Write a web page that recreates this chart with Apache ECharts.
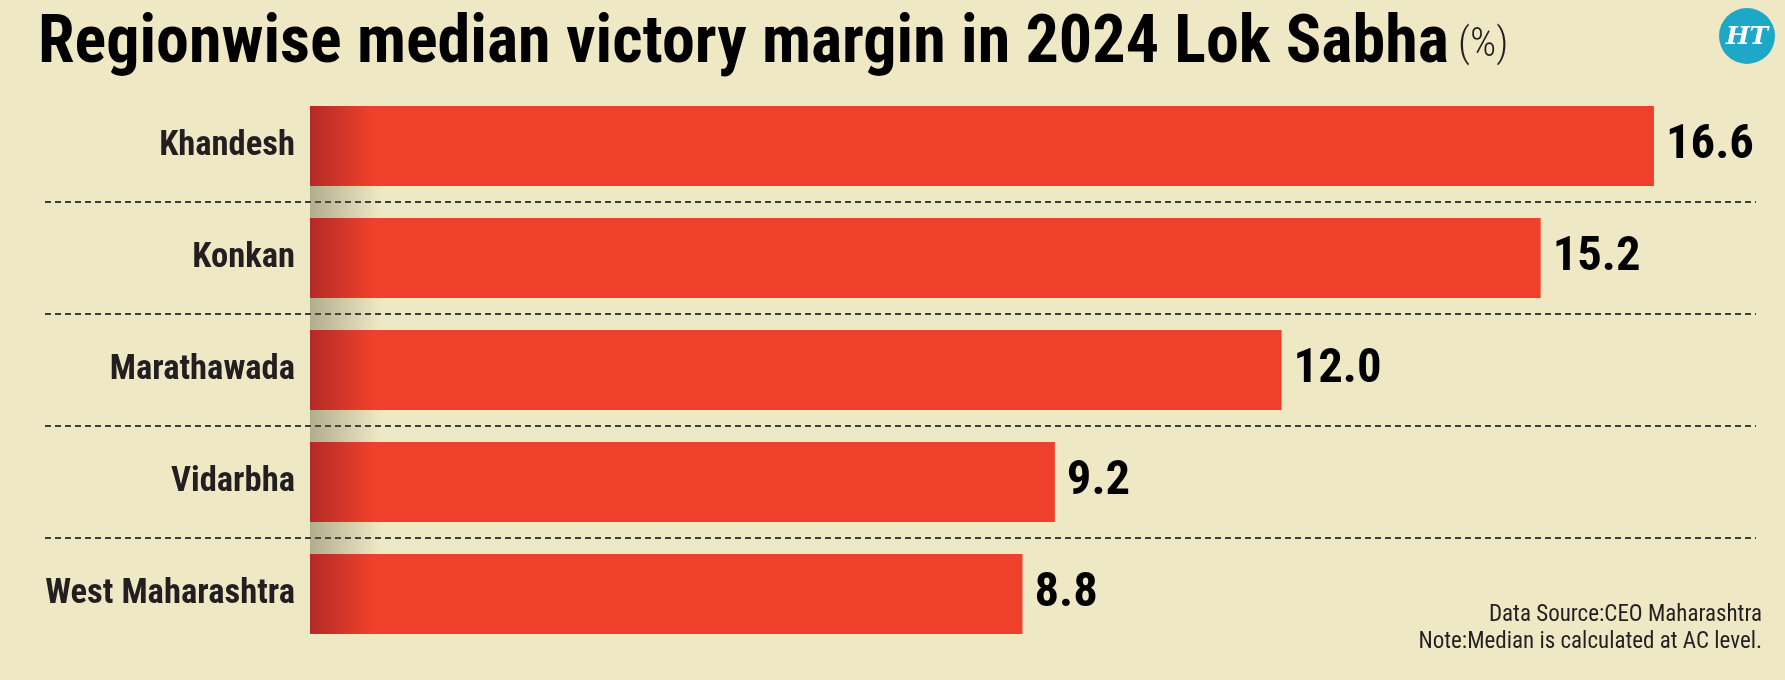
<!DOCTYPE html>
<html>
<head>
    <meta charset="utf-8" />
    <title>Regionwise median victory margin</title>
    <script src="https://cdn.jsdelivr.net/npm/echarts@6/dist/echarts.min.js"></script>
    <style>
        html, body { margin: 0; padding: 0; background: #eee8c5; }
        #chart { width: 1785px; height: 680px; }
    </style>
</head>
<body>
<div id="chart"></div>
<script>
    var regions = ['Khandesh', 'Konkan', 'Marathawada', 'Vidarbha', 'West Maharashtra'];
    var margins = [16.6, 15.2, 12.0, 9.2, 8.8];

    var titleText = 'Regionwise median victory margin in 2024 Lok Sabha';
    var noteText = 'Data Source:CEO Maharashtra\nNote:Median is calculated at AC level.';

    // pick the narrowest installed condensed face
    var ctx = document.createElement('canvas').getContext('2d');
    function textWidth(font, s) { ctx.font = font; return ctx.measureText(s).width; }
    function hasFont(name) {
        var s = 'mmmmmWWWiiil1234';
        return textWidth('40px "' + name + '", monospace', s) !== textWidth('40px monospace', s) ||
               textWidth('40px "' + name + '", serif', s) !== textWidth('40px serif', s);
    }
    var face = ['Liberation Sans Narrow', 'Noto Sans ExtraCondensed', 'Noto Sans Condensed',
                'Roboto Condensed', 'DejaVu Sans Condensed', 'Liberation Sans'].filter(hasFont)[0] || 'sans-serif';
    var narrow = '"' + face + '", sans-serif';

    // size a string so it spans the same width as in the original
    function fit(s, weight, target, max) {
        var w = textWidth(weight + ' 100px ' + narrow, s);
        return Math.min(max, Math.floor(100 * target / w * 10) / 10);
    }
    var titleSize = fit(titleText, 'bold', 1413, 67);
    var catSize = fit('West Maharashtra', 'bold', 250, 35);
    var valSize = fit('16.6', 'bold', 88, 60);
    var noteSize = fit('Note:Median is calculated at AC level.', 'normal', 352, 23);

    var chart = echarts.init(document.getElementById('chart'));

    // darker fold on the left end of every bar (global pixel gradient)
    var barColor = new echarts.graphic.LinearGradient(310, 0, 372, 0, [
        { offset: 0, color: '#b42a26' },
        { offset: 1, color: '#ef402b' }
    ], true);

    var option = {
        backgroundColor: '#eee8c5',
        title: {
            left: 33,
            top: 50 - titleSize * 0.64,
            text: '{a|' + titleText + '}{b| (%)}',
            textStyle: {
                rich: {
                    a: { fontFamily: narrow, fontWeight: 'bold', fontSize: titleSize, color: '#000' },
                    b: { fontFamily: narrow, fontWeight: 300, fontSize: titleSize * 0.62, color: '#231f20' }
                }
            }
        },
        grid: { left: 45, right: 29, top: 90, bottom: 30, outerBoundsMode: 'none', containLabel: false },
        xAxis: {
            type: 'value',
            min: -3.273,
            max: 17.86,
            show: false
        },
        yAxis: {
            type: 'category',
            data: regions,
            inverse: true,
            axisLine: { show: false },
            axisTick: { show: false },
            axisLabel: {
                inside: true,
                align: 'right',
                margin: 250,
                fontFamily: narrow,
                fontWeight: 'bold',
                fontSize: catSize,
                color: '#231f20'
            },
            splitLine: {
                show: true,
                showMinLine: false,
                showMaxLine: false,
                lineStyle: { color: '#35433e', width: 2, type: [6, 4] }
            }
        },
        series: [{
            type: 'bar',
            data: margins,
            barCategoryGap: '28.5%',
            itemStyle: { color: barColor },
            label: {
                show: true,
                position: 'right',
                distance: 12,
                fontFamily: narrow,
                fontWeight: 'bold',
                fontSize: valSize,
                color: '#000',
                formatter: function (p) { return p.value.toFixed(1); }
            },
            z: 3
        }],
        graphic: [
            {
                // shadow of the fold between the bars
                type: 'rect',
                z: 1,
                shape: { x: 310, y: 106, width: 70, height: 526 },
                style: {
                    fill: new echarts.graphic.LinearGradient(0, 0, 1, 0, [
                        { offset: 0, color: 'rgba(95,90,60,0.42)' },
                        { offset: 1, color: 'rgba(95,90,60,0)' }
                    ])
                }
            },
            {
                type: 'group',
                right: 10,
                top: 8,
                children: [
                    { type: 'circle', shape: { cx: 28, cy: 28, r: 28 }, style: { fill: '#1ea8c8' } },
                    {
                        type: 'text',
                        x: 28, y: 29,
                        style: {
                            text: 'HT',
                            fill: '#fff',
                            font: 'italic bold 25px "DejaVu Serif", serif',
                            textAlign: 'center',
                            textVerticalAlign: 'middle'
                        }
                    }
                ]
            },
            {
                type: 'text',
                right: 23,
                top: 602,
                style: {
                    text: noteText,
                    fill: '#231f20',
                    font: noteSize + 'px ' + narrow,
                    lineHeight: 27,
                    textAlign: 'right'
                }
            }
        ]
    };

    chart.setOption(option);
</script>
</body>
</html>
